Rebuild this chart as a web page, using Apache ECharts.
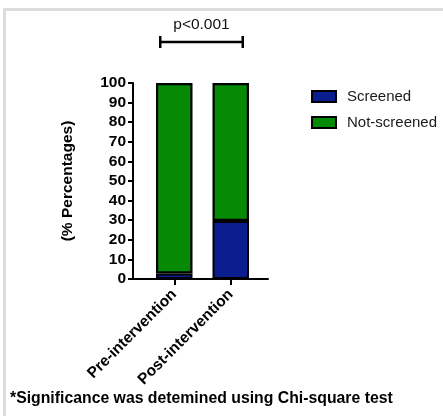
<!DOCTYPE html>
<html>
<head>
<meta charset="utf-8">
<script src="https://cdn.jsdelivr.net/npm/echarts@6/dist/echarts.min.js"></script>
<style>
  html, body { margin: 0; padding: 0; background: #fff; }
  #chart { width: 443px; height: 416px; }
</style>
</head>
<body>
<div id="chart"></div>
<script>
// Screening rates before and after the intervention (stacked to 100%)
const categories = ['Pre-intervention', 'Post-intervention'];
const screened = [2.8, 29.6];
const notScreened = [97.2, 70.4];
const yTicks = { min: 0, max: 100, interval: 10 };
const seriesNames = ['Screened', 'Not-screened'];
const pValueText = 'p<0.001';
const footnote = '*Significance was detemined using Chi-square test';

const FONT = '"Liberation Sans", Arial, Helvetica, sans-serif';
const BLUE = '#0b1d8f';
const GREEN = '#058a05';

const chart = echarts.init(document.getElementById('chart'), null, { renderer: 'canvas' });

const plotTop = 83, plotHeight = 196;

chart.setOption({
  animation: false,
  backgroundColor: '#ffffff',
  textStyle: { fontFamily: FONT },
  grid: [
    // frame grid: carries the y axis and the full-width baseline
    { left: 133, top: plotTop, width: 135, height: plotHeight },
    // bar grid: inset so the two columns sit where the ticks are
    { left: 146, top: plotTop, width: 113, height: plotHeight }
  ],
  xAxis: [
    {
      gridIndex: 0, type: 'value', min: 0, max: 1,
      axisLine: { show: true, lineStyle: { color: '#000', width: 2 } },
      axisTick: { show: false }, axisLabel: { show: false }, splitLine: { show: false }
    },
    {
      gridIndex: 1, type: 'category', data: categories,
      axisLine: { show: false },
      axisTick: { show: true, alignWithLabel: true, length: 6, lineStyle: { color: '#000', width: 2 } },
      axisLabel: {
        rotate: 45, margin: 13, color: '#000', fontWeight: 'bold',
        fontSize: 15.5, fontFamily: FONT, interval: 0
      },
      splitLine: { show: false }
    }
  ],
  yAxis: [
    {
      gridIndex: 0, type: 'value', min: yTicks.min, max: yTicks.max, interval: yTicks.interval,
      name: '(% Percentages)', nameLocation: 'middle', nameRotate: 90, nameGap: 57,
      nameTextStyle: { color: '#000', fontWeight: 'bold', fontSize: 15.5, fontFamily: FONT },
      axisLine: { show: true, lineStyle: { color: '#000', width: 2 } },
      axisTick: { show: true, length: 5, lineStyle: { color: '#000', width: 2 } },
      axisLabel: { color: '#000', fontWeight: 'bold', fontSize: 15.5, margin: 7, fontFamily: FONT },
      splitLine: { show: false }
    },
    {
      gridIndex: 1, type: 'value', min: yTicks.min, max: yTicks.max, show: false
    }
  ],
  legend: {
    orient: 'vertical', left: 311, top: 89, padding: 0,
    itemWidth: 24, itemHeight: 11, itemGap: 11,
    icon: 'rect',
    textStyle: { color: '#1a1a1a', fontSize: 15, fontFamily: FONT, padding: [0, 0, 0, 6] },
    data: seriesNames
  },
  series: [
    {
      name: seriesNames[0], type: 'bar', stack: 'total', xAxisIndex: 1, yAxisIndex: 1,
      barWidth: 36.5, data: screened,
      itemStyle: { color: BLUE, borderColor: '#000', borderWidth: 2 }
    },
    {
      name: seriesNames[1], type: 'bar', stack: 'total', xAxisIndex: 1, yAxisIndex: 1,
      barWidth: 36.5, data: notScreened,
      itemStyle: { color: GREEN, borderColor: '#000', borderWidth: 2.2 }
    }
  ]
});

// significance bracket spanning the two columns, plus frame and footnote
const c0 = chart.convertToPixel({ xAxisIndex: 1 }, categories[0]);
const c1 = chart.convertToPixel({ xAxisIndex: 1 }, categories[1]);
const bx0 = c0 - 14, bx1 = c1 + 12, by = 42;
chart.setOption({
  graphic: [
    { type: 'rect', shape: { x: 3, y: 8, width: 440, height: 3 }, style: { fill: '#dcdcdc' }, silent: true },
    { type: 'rect', shape: { x: 3, y: 8, width: 3, height: 408 }, style: { fill: '#dcdcdc' }, silent: true },
    { type: 'line', shape: { x1: bx0, y1: by, x2: bx1, y2: by }, style: { stroke: '#000', lineWidth: 2.5 } },
    { type: 'line', shape: { x1: bx0, y1: by - 6, x2: bx0, y2: by + 6 }, style: { stroke: '#000', lineWidth: 2.5 } },
    { type: 'line', shape: { x1: bx1, y1: by - 6, x2: bx1, y2: by + 6 }, style: { stroke: '#000', lineWidth: 2.5 } },
    {
      type: 'text', x: (bx0 + bx1) / 2, y: 25,
      style: { text: pValueText, fill: '#111', font: '15.5px ' + FONT, textAlign: 'center', textVerticalAlign: 'middle' }
    },
    {
      type: 'text', x: 10, y: 399,
      style: { text: footnote, fill: '#000', font: 'bold 15.8px ' + FONT, textAlign: 'left', textVerticalAlign: 'middle' }
    }
  ]
});
</script>
</body>
</html>
